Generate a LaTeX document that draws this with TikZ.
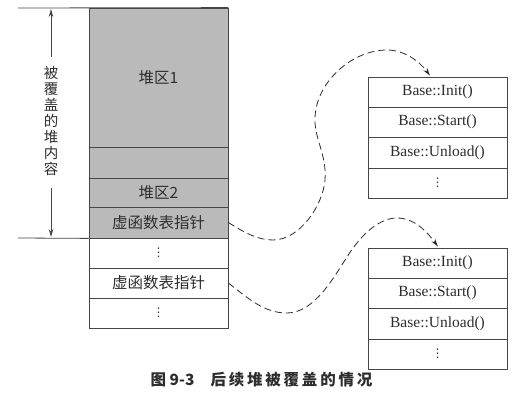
\documentclass[tikz,border=0pt]{standalone}
\usepackage{fontspec}
\setmainfont{Liberation Serif}
\newfontfamily\cjk{Noto Sans CJK SC}
\newfontfamily\cjkcap[LetterSpace=18]{Noto Sans CJK SC}
\newfontfamily\symf{DejaVu Sans}
\usetikzlibrary{arrows.meta,calc}
\definecolor{linec}{RGB}{70,70,70}
\definecolor{textc}{RGB}{45,45,45}
\definecolor{heapc}{RGB}{186,186,186}
\tikzset{
  cell/.style={draw=linec, line width=0.8pt, minimum width=139pt, inner sep=0pt,
    text=textc, font=\cjk\fontsize{15.5}{16}\selectfont, anchor=center},
  shaded/.style={cell, fill=heapc},
  fn/.style={cell, font=\fontsize{15.5}{16}\selectfont},
  dotsbox/.style={cell, font=\symf\fontsize{12}{12}\selectfont},
  link/.style={draw=textc, line width=0.8pt, dash pattern=on 7pt off 4pt,
    -{Stealth[length=8pt,width=4.5pt]}},
  span/.style={draw=linec, line width=0.8pt, -{Stealth[length=8pt,width=4.5pt]}}
}
\begin{document}
\begin{tikzpicture}[x=1pt,y=-1pt]
\useasboundingbox (0,0) rectangle (520,401);
\fill[white] (0,0) rectangle (520,401);

% heap stack
\node[shaded, minimum height=139pt] (heap1) at (158.5,77.5) {堆区1};
\node[shaded, minimum height=31pt] (gap) at (158.5,162.5) {};
\node[shaded, minimum height=29pt] (heap2) at (158.5,192.5) {堆区2};
\node[shaded, minimum height=31pt] (vptr1) at (158.5,222.5) {虚函数表指针};
\node[dotsbox, minimum height=30pt] (dots1) at (158.5,253) {⋮};
\node[cell, minimum height=30pt] (vptr2) at (158.5,283) {虚函数表指针};
\node[dotsbox, minimum height=30pt] (dots2) at (158.5,313) {⋮};

% extent of the overwritten part
\coordinate (topL) at (18,8);
\coordinate (botL) at (18,238);
\draw[linec, line width=0.8pt] (topL) -- (heap1.north east);
\draw[linec, line width=0.8pt] (botL) -- (vptr1.south west);
\coordinate (upS) at (51,57);
\coordinate (upE) at (51,9);
\coordinate (dnS) at (51,188);
\coordinate (dnE) at (51,237);
\draw[span] (upS) -- (upE);
\draw[span] (dnS) -- (dnE);
\node[text=textc, font=\cjk\fontsize{14.5}{16}\selectfont, align=center, inner sep=0pt]
  (cover) at (51,121) {被\\覆\\盖\\的\\堆\\内\\容};

% first virtual table
\node[fn, minimum height=30pt] (a1) at (437.5,92) {Base::Init()};
\node[fn, minimum height=30pt] (a2) at (437.5,122) {Base::Start()};
\node[fn, minimum height=31pt] (a3) at (437.5,152.5) {Base::Unload()};
\node[dotsbox, minimum height=30pt] (a4) at (437.5,183) {⋮};

% second virtual table
\node[fn, minimum height=30pt] (b1) at (437.5,263) {Base::Init()};
\node[fn, minimum height=30pt] (b2) at (437.5,293) {Base::Start()};
\node[fn, minimum height=31pt] (b3) at (437.5,323.5) {Base::Unload()};
\node[dotsbox, minimum height=30pt] (b4) at (437.5,354) {⋮};

% pointers into the tables
\coordinate (a1tip) at ($(a1.north)+(-7.5,-1)$);
\coordinate (b1tip) at ($(b1.north)+(0.5,-1)$);
\draw[link] (vptr1.east)
  .. controls (245,233) and (258,240) .. (273,240)
  .. controls (300,240) and (323,205) .. (325,180)
  .. controls (327,155) and (314,138) .. (315,118)
  .. controls (316,82) and (352,50) .. (387,50)
  .. controls (405,50) and (420,62) .. (a1tip);
\draw[link] (vptr2.east)
  .. controls (250,300) and (265,313) .. (287,313)
  .. controls (315,313) and (335,275) .. (347,257)
  .. controls (362,233) and (380,218) .. (397,218)
  .. controls (415,218) and (428,233) .. (b1tip);

% caption
\node[text=textc, font=\cjk\bfseries\fontsize{15.5}{16}\selectfont, inner sep=0pt]
  (caption) at (261.5,380) {图 9-3\hspace{16pt}{\cjkcap\bfseries 后续堆被覆盖的情况}};
\end{tikzpicture}
\end{document}
